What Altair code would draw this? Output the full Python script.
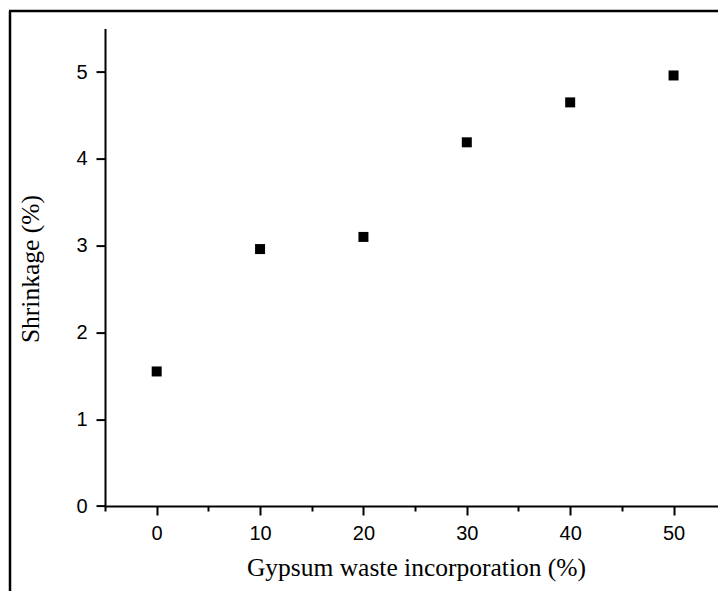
import altair as alt
import pandas as pd

# data
x_vals = [0, 10, 20, 30, 40, 50]
y_vals = [1.55, 2.96, 3.10, 4.19, 4.65, 4.96]

x_tick_vals = [-5, 0, 5, 10, 15, 20, 25, 30, 35, 40, 45, 50]
y_tick_vals = [0, 0.5, 1, 1.5, 2, 2.5, 3, 3.5, 4, 4.5, 5, 5.5]

x_title = "Gypsum waste incorporation (%)"
y_title = "Shrinkage (%)"

df = pd.DataFrame({"x": x_vals, "y": y_vals})

W = 613
H = 477.4

x_axis = alt.Axis(
    values=x_tick_vals,
    labelExpr="datum.value % 10 === 0 ? datum.label : ''",
    format="d",
    grid=False,
    domainColor="black",
    domainWidth=2,
    tickColor="black",
    tickWidth=2,
    tickSize={"condition": {"test": "datum.value % 10 !== 0", "value": 5}, "value": 9},
    labelFont="Liberation Sans",
    labelFontSize=20,
    labelColor="black",
    labelPadding=8,
    title=x_title,
    titleFont="Liberation Serif",
    titleFontSize=25.5,
    titleFontWeight="normal",
    titleColor="black",
    titleX=311,
    titleY=69,
    titleBaseline="alphabetic",
    titleAlign="center",
)

y_axis = alt.Axis(
    values=y_tick_vals,
    labelExpr="datum.value % 1 === 0 ? datum.label : ''",
    format="d",
    grid=False,
    domainColor="black",
    domainWidth=2,
    tickColor="black",
    tickWidth=2,
    tickSize={"condition": {"test": "datum.value % 1 !== 0", "value": 5}, "value": 9},
    labelFont="Liberation Sans",
    labelFontSize=20,
    labelColor="black",
    labelPadding=9,
    title=y_title,
    titleFont="Liberation Serif",
    titleFontSize=25.5,
    titleFontWeight="normal",
    titleColor="black",
    titleX=-67,
    titleY=240,
    titleBaseline="alphabetic",
    titleAlign="center",
    titleAngle=270,
)

points = alt.Chart(df).mark_square(size=100, color="black", opacity=1).encode(
    x=alt.X("x:Q", scale=alt.Scale(domain=[-5, 54.3], nice=False, zero=False), axis=x_axis),
    y=alt.Y("y:Q", scale=alt.Scale(domain=[0, 5.5], nice=False), axis=y_axis),
)

frame_df = pd.DataFrame({"a": [0]})
frame_left = alt.Chart(frame_df).mark_rule(color="black", strokeWidth=2.5).encode(
    x=alt.value(-95), y=alt.value(-17.6), y2=alt.value(600)
)
frame_top = alt.Chart(frame_df).mark_rule(color="black", strokeWidth=2.5).encode(
    x=alt.value(-96), x2=alt.value(700), y=alt.value(-17.6)
)

chart = alt.layer(points, frame_left, frame_top).properties(
    width=W,
    height=H,
    autosize=alt.AutoSizeParams(type="none"),
    padding={"left": 105, "top": 28.6, "right": 0, "bottom": 85},
    background="white",
).configure_view(stroke=None)

chart.save("out.html", embed_options={"renderer": "svg", "actions": False})
